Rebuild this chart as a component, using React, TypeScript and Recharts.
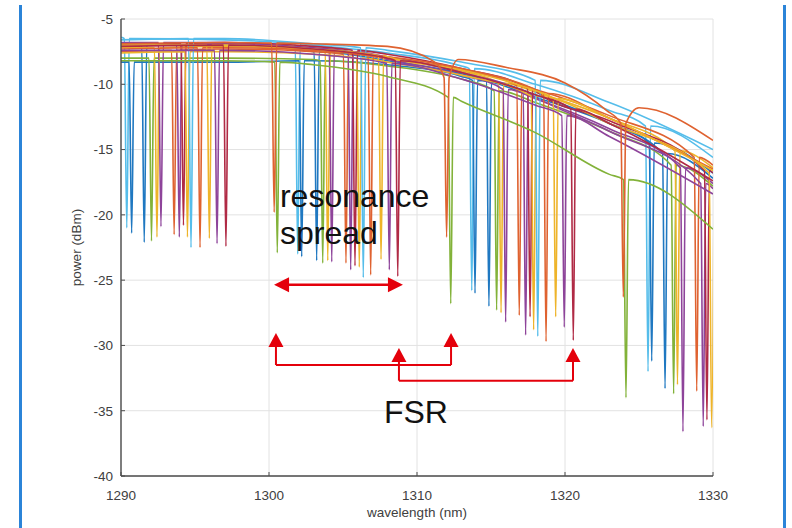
import React from "react";
import {
  LineChart,
  Line,
  XAxis,
  YAxis,
  CartesianGrid,
  ReferenceLine,
  ReferenceDot,
} from "recharts";

type Pt = { x: number; y: number };
// dip = [centre wavelength, level where the dip starts, bottom]
type Dip = [number, number, number];

const xTicks = [1290, 1300, 1310, 1320, 1330];
const yTicks = [-40, -35, -30, -25, -20, -15, -10, -5];

const baseWl = [1290, 1297, 1303, 1308, 1313, 1318, 1323, 1330];

const cyanA = [-6.4, -6.6, -7.0, -7.6, -8.6, -10.0, -12.0, -15.6];
const cyanADips: Dip[] = [[1290.39, -6.5, -21.0], [1301.94, -6.9, -23.0], [1313.7, -8.8, -25.8], [1325.61, -13.2, -32.0]];

const blueA = [-8.3, -8.3, -8.2, -8.5, -9.4, -11.0, -13.0, -16.8];
const blueADips: Dip[] = [[1290.72, -8.3, -21.4], [1302.21, -8.2, -23.2], [1313.92, -9.7, -26.0], [1325.86, -14.5, -31.2]];

const blueB = [-7.0, -7.0, -7.5, -8.2, -9.2, -10.8, -13.0, -17.2];
const blueBDips: Dip[] = [[1291.57, -7.0, -22.1], [1303.22, -7.5, -23.5], [1314.86, -9.8, -27.0], [1326.76, -15.3, -33.3]];

const greenA = [-8.0, -8.0, -8.1, -8.6, -9.6, -11.4, -13.6, -17.8];
const greenADips: Dip[] = [[1292.06, -8.0, -22.0], [1303.63, -8.2, -23.7], [1315.38, -10.5, -27.3], [1327.34, -16.2, -33.7]];

const yellowA = [-7.2, -7.1, -7.4, -8.0, -9.0, -10.6, -12.6, -16.4];
const yellowADips: Dip[] = [[1292.43, -7.2, -21.7], [1303.97, -7.5, -23.5], [1315.68, -9.9, -27.5], [1327.6, -15.1, -33.0]];

const purpleA = [-6.8, -6.8, -7.3, -8.1, -9.3, -11.1, -13.4, -17.6];
const purpleADips: Dip[] = [[1292.7, -6.8, -20.9], [1304.24, -7.4, -23.6], [1315.99, -10.4, -28.2], [1327.97, -16.4, -36.6]];

const orangeA = [-7.5, -7.3, -7.5, -8.0, -8.9, -10.4, -12.4, -16.2];
const orangeADips: Dip[] = [[1293.59, -7.4, -21.5], [1305.2, -7.7, -23.7], [1316.91, -10.1, -27.7], [1328.9, -15.6, -33.5]];

const purpleB = [-7.0, -6.9, -7.2, -7.9, -9.1, -11.0, -13.6, -18.0];
const purpleBDips: Dip[] = [[1293.94, -7.0, -21.7], [1305.52, -7.5, -24.2], [1317.34, -10.7, -29.2], [1329.34, -17.6, -36.2]];

const redA = [-6.9, -6.8, -7.1, -7.7, -8.8, -10.5, -12.8, -16.8];
const redADips: Dip[] = [[1294.22, -6.9, -20.8], [1305.81, -7.4, -23.9], [1317.64, -10.3, -27.8], [1329.59, -16.6, -35.7]];

const yellowB = [-7.6, -7.5, -7.7, -8.3, -9.3, -10.9, -13.0, -16.8];
const yellowBDips: Dip[] = [[1294.49, -7.5, -21.7], [1306.1, -8.0, -24.0], [1317.88, -10.9, -28.8], [1329.91, -16.8, -36.3]];

const cyanB = [-6.6, -6.5, -6.9, -7.4, -8.3, -9.6, -11.4, -15.0];
const cyanBDips: Dip[] = [[1294.73, -6.5, -22.5], [1306.37, -7.2, -24.8], [1318.16, -9.7, -29.3]];

const orangeB = [-7.3, -7.2, -7.4, -7.9, -8.8, -10.4, -12.6, -16.5];
const orangeBDips: Dip[] = [[1295.34, -7.2, -22.5], [1306.87, -7.8, -24.6], [1318.72, -10.7, -29.7]];

const yellowC = [-7.0, -7.0, -7.3, -7.9, -8.9, -10.5, -12.6, -16.6];
const yellowCDips: Dip[] = [[1295.97, -7.0, -21.8], [1307.57, -7.8, -23.4], [1319.37, -11.1, -27.8]];

const purpleC = [-7.4, -7.4, -7.7, -8.4, -9.6, -11.6, -14.0, -18.4];
const purpleCDips: Dip[] = [[1296.49, -7.4, -22.2], [1308.13, -8.4, -24.2], [1319.95, -12.4, -28.6]];

const redB = [-7.1, -7.0, -7.3, -8.0, -9.1, -10.8, -13.0, -17.4];
const redBDips: Dip[] = [[1297.09, -7.0, -22.4], [1308.7, -8.2, -24.7], [1320.56, -11.9, -29.6]];

const greenB = [-8.2, -8.2, -8.5, -9.4, -11.3, -13.7, -16.9, -21.1];
const greenBDips: Dip[] = [[1300.56, -8.3, -22.9], [1312.28, -11.0, -26.8], [1324.12, -17.3, -34.0]];

// top orange trace has its own read points (broader resonances)
const orangeTopWl = [1290, 1297, 1303, 1308, 1311.2, 1312.8, 1316, 1320, 1322.8, 1325, 1330];
const orangeTop = [-6.9, -6.8, -6.9, -7.1, -8.3, -8.1, -8.7, -9.9, -12.0, -11.8, -14.3];
const orangeTopDips: Dip[] = [[1300.35, -6.85, -19.8], [1312.0, -9.5, -21.7], [1323.94, -13.0, -26.3]];

const BLUE = "#1f78c1";
const ORANGE = "#df6230";
const YELLOW = "#eeb42a";
const PURPLE = "#8e449a";
const GREEN = "#82b239";
const CYAN = "#55bdea";
const RED = "#b02a45";
const ANNOT = "#e4000b";

const DIP_HALF = 0.17;

function buildTrace(wl: number[], lvl: number[], dips: Dip[]): Pt[] {
  const pts: Pt[] = wl
    .map((x, i) => ({ x, y: lvl[i] }))
    .filter((p) => dips.every(([c]) => Math.abs(p.x - c) > 0.35));
  dips.forEach(([c, top, bottom]) => {
    pts.push({ x: c - DIP_HALF, y: top }, { x: c, y: bottom }, { x: c + DIP_HALF, y: top });
  });
  return pts.sort((a, b) => a.x - b.x);
}

const traces = [
  { key: "cyanA", color: CYAN, data: buildTrace(baseWl, cyanA, cyanADips) },
  { key: "blueA", color: BLUE, data: buildTrace(baseWl, blueA, blueADips) },
  { key: "blueB", color: BLUE, data: buildTrace(baseWl, blueB, blueBDips) },
  { key: "greenA", color: GREEN, data: buildTrace(baseWl, greenA, greenADips) },
  { key: "yellowA", color: YELLOW, data: buildTrace(baseWl, yellowA, yellowADips) },
  { key: "purpleA", color: PURPLE, data: buildTrace(baseWl, purpleA, purpleADips) },
  { key: "orangeA", color: ORANGE, data: buildTrace(baseWl, orangeA, orangeADips) },
  { key: "purpleB", color: PURPLE, data: buildTrace(baseWl, purpleB, purpleBDips) },
  { key: "redA", color: RED, data: buildTrace(baseWl, redA, redADips) },
  { key: "yellowB", color: YELLOW, data: buildTrace(baseWl, yellowB, yellowBDips) },
  { key: "cyanB", color: CYAN, data: buildTrace(baseWl, cyanB, cyanBDips) },
  { key: "orangeB", color: ORANGE, data: buildTrace(baseWl, orangeB, orangeBDips) },
  { key: "yellowC", color: YELLOW, data: buildTrace(baseWl, yellowC, yellowCDips) },
  { key: "purpleC", color: PURPLE, data: buildTrace(baseWl, purpleC, purpleCDips) },
  { key: "redB", color: RED, data: buildTrace(baseWl, redB, redBDips) },
  { key: "greenB", color: GREEN, data: buildTrace(baseWl, greenB, greenBDips) },
  { key: "orangeTop", color: ORANGE, data: buildTrace(orangeTopWl, orangeTop, orangeTopDips) },
];

// annotation anchors, in data units
const spreadArrow = { from: 1300.34, to: 1309.05, level: -25.35 };
const fsrBrackets = [
  { left: 1300.47, right: 1312.3, tip: -29.05, foot: -31.5 },
  { left: 1308.78, right: 1320.54, tip: -30.2, foot: -32.7 },
];
const notes = [
  { text: "resonance", x: 1300.74, y: -19.4, anchor: "start" },
  { text: "spread", x: 1300.74, y: -22.23, anchor: "start" },
  { text: "FSR", x: 1309.93, y: -35.94, anchor: "middle" },
];

const headUp = (p: any) => (
  <polygon points={`${p.cx},${p.cy} ${p.cx - 7.5},${p.cy + 14} ${p.cx + 7.5},${p.cy + 14}`} fill={ANNOT} />
);
const headLeft = (p: any) => (
  <polygon points={`${p.cx},${p.cy} ${p.cx + 15},${p.cy - 7.5} ${p.cx + 15},${p.cy + 7.5}`} fill={ANNOT} />
);
const headRight = (p: any) => (
  <polygon points={`${p.cx},${p.cy} ${p.cx - 15},${p.cy - 7.5} ${p.cx - 15},${p.cy + 7.5}`} fill={ANNOT} />
);
const noteShape = (text: string, anchor: string) => (p: any) => (
  <text x={p.cx} y={p.cy} textAnchor={anchor} fontSize={32} fill="#111">
    {text}
  </text>
);

function XTitle({ viewBox }: any) {
  if (!viewBox) return null;
  return (
    <text x={viewBox.x + viewBox.width / 2} y={viewBox.y + 41} textAnchor="middle" fontSize={13.5} fill="#404040">
      wavelength (nm)
    </text>
  );
}

function YTitle({ viewBox }: any) {
  if (!viewBox) return null;
  const cx = viewBox.x + viewBox.width - 40;
  const cy = viewBox.y + viewBox.height / 2;
  return (
    <text x={cx} y={cy} transform={`rotate(-90, ${cx}, ${cy})`} textAnchor="middle" fontSize={13.5} fill="#404040">
      power (dBm)
    </text>
  );
}

export default function App() {
  const tickStyle = { fontSize: 13.5, fill: "#404040" };
  return (
    <div
      style={{
        position: "absolute",
        left: 0,
        top: 0,
        width: 792,
        height: 528,
        background: "#fff",
        fontFamily: "'Liberation Sans', Arial, Helvetica, sans-serif",
        overflow: "hidden",
      }}
    >
      <div style={{ position: "absolute", left: 19, top: 5, width: 3, height: 523, background: "#2b84d8" }} />
      <div style={{ position: "absolute", left: 783, top: 5, width: 3, height: 523, background: "#2b84d8" }} />
      <LineChart width={792} height={528} margin={{ top: 19, right: 79, left: 61, bottom: 22 }}>
        <CartesianGrid stroke="#e2e2e2" strokeWidth={1} />
        <XAxis
          dataKey="x"
          type="number"
          domain={[1290, 1330]}
          ticks={xTicks}
          allowDataOverflow
          height={30}
          tick={tickStyle}
          tickSize={-4}
          tickMargin={18}
          tickLine={{ stroke: "#4d4d4d" }}
          axisLine={{ stroke: "#4d4d4d", strokeWidth: 1.4 }}
          label={<XTitle />}
        />
        <YAxis
          dataKey="y"
          type="number"
          domain={[-40, -5]}
          ticks={yTicks}
          allowDataOverflow
          width={60}
          tick={tickStyle}
          tickSize={-4}
          tickMargin={12}
          tickLine={{ stroke: "#4d4d4d" }}
          axisLine={{ stroke: "#4d4d4d", strokeWidth: 1.4 }}
          label={<YTitle />}
        />
        {traces.map((t) => (
          <Line
            key={t.key}
            data={t.data}
            dataKey="y"
            type="monotone"
            stroke={t.color}
            strokeWidth={1.6}
            dot={false}
            activeDot={false}
            isAnimationActive={false}
          />
        ))}

        <ReferenceLine
          segment={[
            { x: spreadArrow.from + 0.5, y: spreadArrow.level },
            { x: spreadArrow.to - 0.5, y: spreadArrow.level },
          ]}
          stroke={ANNOT}
          strokeWidth={2.5}
        />
        <ReferenceDot x={spreadArrow.from} y={spreadArrow.level} shape={headLeft} />
        <ReferenceDot x={spreadArrow.to} y={spreadArrow.level} shape={headRight} />

        {fsrBrackets.map((b, i) => (
          <React.Fragment key={`fsr${i}`}>
            <ReferenceLine segment={[{ x: b.left, y: b.tip - 0.6 }, { x: b.left, y: b.foot }]} stroke={ANNOT} strokeWidth={2} />
            <ReferenceLine segment={[{ x: b.right, y: b.tip - 0.6 }, { x: b.right, y: b.foot }]} stroke={ANNOT} strokeWidth={2} />
            <ReferenceLine segment={[{ x: b.left, y: b.foot }, { x: b.right, y: b.foot }]} stroke={ANNOT} strokeWidth={2} />
            <ReferenceDot x={b.left} y={b.tip} shape={headUp} />
            <ReferenceDot x={b.right} y={b.tip} shape={headUp} />
          </React.Fragment>
        ))}

        {notes.map((n) => (
          <ReferenceDot key={n.text} x={n.x} y={n.y} shape={noteShape(n.text, n.anchor)} />
        ))}
      </LineChart>
    </div>
  );
}
